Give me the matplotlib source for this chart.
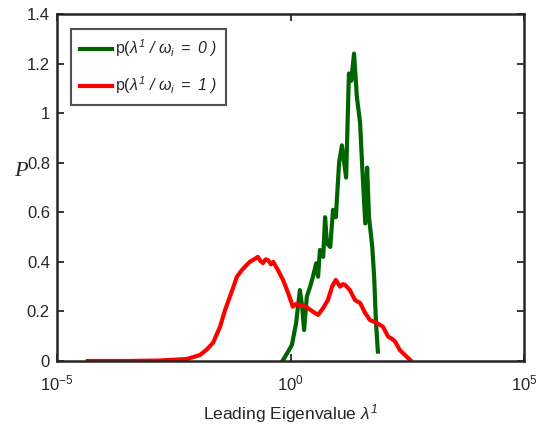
import matplotlib
import matplotlib.pyplot as plt
import numpy as np

matplotlib.rcParams['font.family'] = ['Liberation Sans', 'DejaVu Sans']
matplotlib.rcParams['mathtext.fontset'] = 'custom'
matplotlib.rcParams['mathtext.rm'] = 'Liberation Sans:italic'
matplotlib.rcParams['mathtext.it'] = 'Liberation Sans:italic'
matplotlib.rcParams['mathtext.sf'] = 'Liberation Sans'
matplotlib.rcParams['mathtext.bf'] = 'Liberation Sans:bold'

# log10(lambda) and density
red_logx = [-4.34, -3.5, -2.8, -2.22, -1.94, -1.80, -1.66, -1.51, -1.40, -1.30,
            -1.22, -1.15, -1.04, -0.95, -0.87, -0.78, -0.70, -0.65, -0.59, -0.53,
            -0.48, -0.42, -0.37, -0.27, -0.16, -0.05, 0.05, 0.12, 0.20, 0.33,
            0.48, 0.59, 0.70, 0.80, 0.89, 0.97, 1.06, 1.12, 1.17, 1.27, 1.38,
            1.49, 1.60, 1.70, 1.85, 1.92, 1.98, 2.09, 2.17, 2.24, 2.34, 2.45, 2.56]
red_p = [0.0, 0.0, 0.002, 0.008, 0.024, 0.045, 0.073, 0.137, 0.206, 0.258,
         0.30, 0.339, 0.367, 0.385, 0.40, 0.41, 0.42, 0.405, 0.395, 0.41,
         0.407, 0.39, 0.40, 0.367, 0.327, 0.274, 0.219, 0.23, 0.226, 0.219,
         0.199, 0.186, 0.214, 0.246, 0.30, 0.327, 0.30, 0.31, 0.307, 0.286, 0.246,
         0.234, 0.193, 0.165, 0.153, 0.145, 0.138, 0.098, 0.09, 0.078, 0.044, 0.024, 0.004]

green_logx = [-0.16, -0.05, 0.03, 0.12, 0.20, 0.25, 0.29, 0.35, 0.42, 0.48,
              0.55, 0.59, 0.63, 0.70, 0.74, 0.78, 0.85, 0.91, 0.97, 1.04,
              1.10, 1.19, 1.25, 1.30, 1.36, 1.42, 1.49, 1.53, 1.60, 1.64,
              1.68, 1.75, 1.79, 1.83, 1.87]
green_p = [0.004, 0.038, 0.065, 0.153, 0.286, 0.219, 0.125, 0.26, 0.30, 0.34,
           0.394, 0.34, 0.448, 0.42, 0.58, 0.475, 0.46, 0.61, 0.58, 0.80,
           0.87, 0.74, 1.16, 1.13, 1.24, 1.066, 0.96, 0.80, 0.555, 0.78,
           0.58, 0.46, 0.34, 0.153, 0.038]

xticks = [1e-5, 1e0, 1e5]
xtick_labels = [r'$\mathsf{10^{-5}}$', r'$\mathsf{10^{0}}$', r'$\mathsf{10^{5}}$']
yticks = [0, 0.2, 0.4, 0.6, 0.8, 1.0, 1.2, 1.4]
ytick_labels = ['0', '0.2', '0.4', '0.6', '0.8', '1', '1.2', '1.4']

text_color = '#262626'
fig = plt.figure(figsize=(5.42, 4.41), dpi=100)
ax = fig.add_axes([0.105, 0.1814, 0.862, 0.787])

ax.plot(10 ** np.array(green_logx), green_p, color='#006400', lw=3.0,
        label=r'p($\lambda^{1}\ /\ \omega_{i}\ =\ 0\ )$')
ax.plot(10 ** np.array(red_logx), red_p, color='#ff0000', lw=3.0,
        label=r'p($\lambda^{1}\ /\ \omega_{i}\ =\ 1\ )$')

ax.set_xscale('log')
ax.set_xlim(1e-5, 1e5)
ax.set_ylim(0, 1.4)
ax.set_xticks(xticks)
ax.set_xticklabels(xtick_labels)
ax.minorticks_off()
ax.set_yticks(yticks)
ax.set_yticklabels(ytick_labels)
ax.tick_params(direction='in', length=5, width=1.3, top=True, right=True,
               labelsize=12, colors=text_color, pad=5)
ax.tick_params(axis='x', pad=9)
for s in ax.spines.values():
    s.set_linewidth(1.8)
    s.set_color(text_color)

ax.set_xlabel(r'Leading Eigenvalue $\lambda^{1}$', fontsize=12.5,
              color=text_color, labelpad=6)
ax.set_ylabel('P', fontsize=16, family='Liberation Serif', style='italic',
              rotation=0, va='center', color=text_color)
ax.yaxis.set_label_coords(-0.077, 0.545)

leg = ax.legend(loc='upper left', bbox_to_anchor=(0.03, 0.957), borderaxespad=0,
                fontsize=11.5, fancybox=False, edgecolor=text_color,
                handlelength=2.0, handletextpad=0.2, labelspacing=0.95,
                borderpad=0.55)
leg.get_frame().set_linewidth(1.5)
for t in leg.get_texts():
    t.set_color(text_color)

fig.savefig('out.png', dpi=100)
